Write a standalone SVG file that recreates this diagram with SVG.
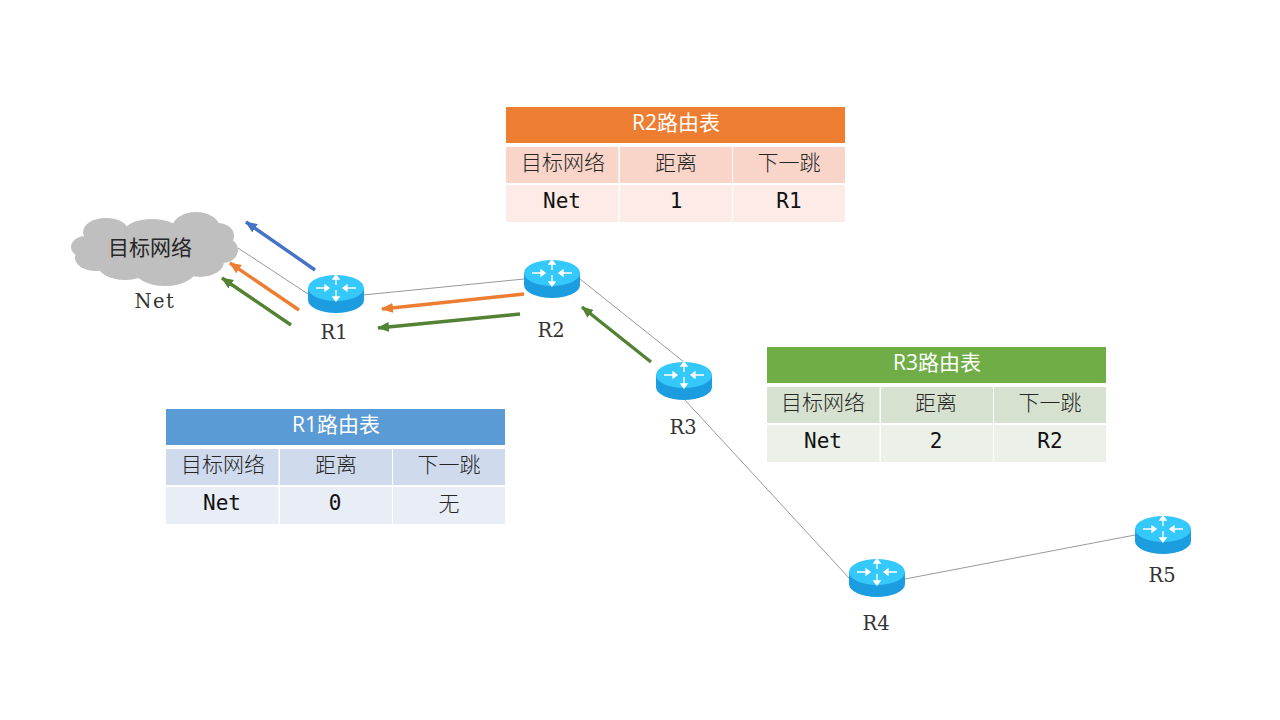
<svg xmlns="http://www.w3.org/2000/svg" width="1280" height="720" viewBox="0 0 1280 720">
<style>
.cjk{font-family:"Noto Sans CJK SC",sans-serif;font-weight:300;font-size:21px;fill:#262626;text-anchor:middle}
.hd{font-family:"Open Sans","Noto Sans CJK SC",sans-serif;font-size:21px;fill:#fff;text-anchor:middle}
.mono{font-family:"DejaVu Sans Mono","Noto Sans CJK SC",monospace;font-size:21px;fill:#111;text-anchor:middle}
.lbl{font-family:"DejaVu Serif",serif;font-size:19.500px;fill:#333;text-anchor:middle}
.link{stroke:#999;stroke-width:1;fill:none}
.ar{stroke-width:3.4;fill:none}
.cl ellipse{fill:#bfbfbf}
</style>
<defs>
<marker id="mb" markerUnits="userSpaceOnUse" markerWidth="12" markerHeight="10" refX="11" refY="5" orient="auto"><path d="M0,0L12,5L0,10Z" fill="#4472c4"/></marker>
<marker id="mo" markerUnits="userSpaceOnUse" markerWidth="12" markerHeight="10" refX="11" refY="5" orient="auto"><path d="M0,0L12,5L0,10Z" fill="#ed7d31"/></marker>
<marker id="mg" markerUnits="userSpaceOnUse" markerWidth="12" markerHeight="10" refX="11" refY="5" orient="auto"><path d="M0,0L12,5L0,10Z" fill="#548235"/></marker>
<g id="router">
<path d="M-28,-6V6A28,13 0 0 0 28,6V-6Z" fill="#1c9ddf"/>
<ellipse cx="0" cy="-6" rx="28" ry="13" fill="#35c8fb"/>
<path d="M-20,-6H-7M-7,-6l-4,-3v6ZM20,-6H7M7,-6l4,-3v6ZM0,-17V-9M0,-19l-3,4h6ZM0,-4V5M0,7l-3,-4h6Z" stroke="#fff" stroke-width="1.3" fill="#fff"/>
</g>
</defs>
<rect width="1280" height="720" fill="#fff"/>
<g id="connectors">
<line class="link" x1="238" y1="248" x2="308" y2="294"/>
<line class="link" x1="363" y1="295" x2="524" y2="279"/>
<line class="link" x1="580" y1="279" x2="684" y2="362"/>
<line class="link" x1="684" y1="399" x2="849" y2="578"/>
<line class="link" x1="905" y1="579" x2="1135" y2="535"/>
<line class="ar" x1="315" y1="270" x2="246" y2="222" stroke="#4472c4" marker-end="url(#mb)"/>
<line class="ar" x1="299" y1="310" x2="230" y2="263" stroke="#ed7d31" marker-end="url(#mo)"/>
<line class="ar" x1="291" y1="325" x2="222" y2="278" stroke="#548235" marker-end="url(#mg)"/>
<line class="ar" x1="524" y1="294" x2="382" y2="309" stroke="#ed7d31" marker-end="url(#mo)"/>
<line class="ar" x1="520" y1="314" x2="378" y2="328" stroke="#548235" marker-end="url(#mg)"/>
<line class="ar" x1="651" y1="362" x2="582" y2="307" stroke="#548235" marker-end="url(#mg)"/>
</g>
<g id="net">
<g class="cl">
<ellipse cx="155" cy="248" rx="70" ry="22"/>
<ellipse cx="106" cy="232" rx="23" ry="14"/>
<ellipse cx="152" cy="232" rx="28" ry="13"/>
<ellipse cx="196" cy="228" rx="24" ry="16"/>
<ellipse cx="218" cy="236" rx="16" ry="13"/>
<ellipse cx="222" cy="250" rx="16" ry="13"/>
<ellipse cx="200" cy="262" rx="24" ry="15"/>
<ellipse cx="165" cy="268" rx="32" ry="18"/>
<ellipse cx="125" cy="264" rx="28" ry="16"/>
<ellipse cx="96" cy="258" rx="21" ry="13"/>
<ellipse cx="86" cy="247" rx="15" ry="11"/>
</g>
<text x="150" y="255" class="cjk" style="font-weight:400">目标网络</text>
<text x="155" y="308" class="lbl" style="letter-spacing:1.500px">Net</text>
</g>
<g id="R1"><use href="#router" x="336" y="294"/><text x="334" y="339" class="lbl">R1</text></g>
<g id="R2"><use href="#router" x="552" y="279"/><text x="551" y="337" class="lbl">R2</text></g>
<g id="R3"><use href="#router" x="684" y="381"/><text x="683" y="434" class="lbl">R3</text></g>
<g id="R4"><use href="#router" x="877" y="578"/><text x="876" y="630" class="lbl">R4</text></g>
<g id="R5"><use href="#router" x="1163" y="535"/><text x="1162" y="582" class="lbl">R5</text></g>
<g id="table-R2">
<rect x="506" y="107" width="339" height="36" fill="#ed7d31"/>
<rect x="506" y="147" width="112.500" height="36" fill="#f8d5c8"/><rect x="620" y="147" width="112" height="36" fill="#f8d5c8"/><rect x="733" y="147" width="112" height="36" fill="#f8d5c8"/>
<rect x="506" y="185" width="112.500" height="37" fill="#fcebe6"/><rect x="620" y="185" width="112" height="37" fill="#fcebe6"/><rect x="733" y="185" width="112" height="37" fill="#fcebe6"/>
<text x="676" y="130" class="hd">R2路由表</text>
<text x="563" y="170" class="cjk">目标网络</text><text x="676" y="170" class="cjk">距离</text><text x="789" y="170" class="cjk">下一跳</text>
<text x="562" y="208" class="mono">Net</text><text x="676" y="208" class="mono">1</text><text x="789" y="208" class="mono">R1</text>
</g>
<g id="table-R3">
<rect x="767" y="347" width="339" height="36" fill="#70ad47"/>
<rect x="767" y="387" width="112.500" height="36" fill="#d6e2cf"/><rect x="881" y="387" width="112" height="36" fill="#d6e2cf"/><rect x="994" y="387" width="112" height="36" fill="#d6e2cf"/>
<rect x="767" y="425" width="112.500" height="37" fill="#ebf0e8"/><rect x="881" y="425" width="112" height="37" fill="#ebf0e8"/><rect x="994" y="425" width="112" height="37" fill="#ebf0e8"/>
<text x="937" y="370" class="hd">R3路由表</text>
<text x="823" y="410" class="cjk">目标网络</text><text x="936" y="410" class="cjk">距离</text><text x="1050" y="410" class="cjk">下一跳</text>
<text x="823" y="448" class="mono">Net</text><text x="936" y="448" class="mono">2</text><text x="1050" y="448" class="mono">R2</text>
</g>
<g id="table-R1">
<rect x="166" y="409" width="339" height="36" fill="#5b9bd5"/>
<rect x="166" y="449" width="112.500" height="36" fill="#cfdbed"/><rect x="280" y="449" width="112" height="36" fill="#cfdbed"/><rect x="393" y="449" width="112" height="36" fill="#cfdbed"/>
<rect x="166" y="487" width="112.500" height="37" fill="#e8edf6"/><rect x="280" y="487" width="112" height="37" fill="#e8edf6"/><rect x="393" y="487" width="112" height="37" fill="#e8edf6"/>
<text x="336" y="432" class="hd">R1路由表</text>
<text x="223" y="472" class="cjk">目标网络</text><text x="336" y="472" class="cjk">距离</text><text x="449" y="472" class="cjk">下一跳</text>
<text x="222" y="510" class="mono">Net</text><text x="335" y="510" class="mono">0</text><text x="449" y="511" class="cjk">无</text>
</g>
</svg>
